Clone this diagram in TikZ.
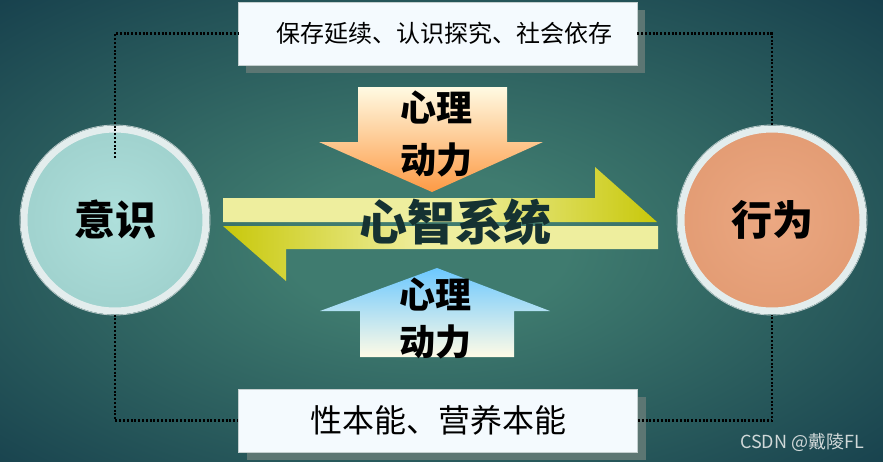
\documentclass[tikz,border=0pt]{standalone}
\usepackage{fontspec}
\newfontfamily\cjk{Noto Sans CJK SC}
\usetikzlibrary{shadows}
\definecolor{bgin}{HTML}{3F7B6F}
\definecolor{bgout}{HTML}{163F4C}
\definecolor{boxfill}{HTML}{F4FAFE}
\definecolor{boxline}{HTML}{C4CFCF}
\definecolor{shadowc}{HTML}{5C7673}
\definecolor{ringc}{HTML}{E3EDED}
\definecolor{ringedge}{HTML}{B8C8C8}
\definecolor{lin}{HTML}{AEDFDB}
\definecolor{lout}{HTML}{A0D2CE}
\definecolor{rin}{HTML}{EBA882}
\definecolor{rout}{HTML}{E39C74}
\definecolor{bandpale}{HTML}{EEEE9E}
\definecolor{bandgreen}{HTML}{C8C80A}
\definecolor{downtop}{HTML}{FFFAE2}
\definecolor{downbot}{HTML}{FD9A45}
\definecolor{uptop}{HTML}{6CC8FF}
\definecolor{upbot}{HTML}{FFFBE6}
\definecolor{titlec}{HTML}{153232}
\definecolor{wmc}{HTML}{D0D8D8}
\pgfdeclareradialshading{bgshade}{\pgfpoint{-1bp}{-2bp}}{color(0bp)=(bgin); color(8bp)=(bgin); color(37bp)=(bgout); color(60bp)=(bgout)}
\pgfdeclarehorizontalshading{upband}{100bp}{color(0bp)=(bandpale); color(25bp)=(bandpale); color(52bp)=(bandpale); color(75bp)=(bandgreen); color(100bp)=(bandgreen)}
\pgfdeclarehorizontalshading{lowband}{100bp}{color(0bp)=(bandgreen); color(25bp)=(bandgreen); color(48bp)=(bandpale); color(75bp)=(bandpale); color(100bp)=(bandpale)}
\tikzset{
  infobox/.style={draw=boxline, line width=0.8pt, fill=boxfill, minimum width=399pt, minimum height=63pt, inner sep=0pt,
    drop shadow={shadow xshift=8pt, shadow yshift=-8pt, opacity=1, fill=shadowc}},
  ball/.style={circle, minimum size=182pt, inner sep=0pt, draw=ringc, line width=7pt,
    font=\cjk\bfseries\fontsize{41}{41}\selectfont},
  dots/.style={line width=2.6pt, dash pattern=on 2pt off 1.8pt, black},
  dyn/.style={font=\cjk\bfseries\fontsize{36}{52}\selectfont, align=center, inner sep=0pt}
}
\begin{document}
\begin{tikzpicture}[x=1pt,y=-1pt]
\useasboundingbox (0,0) rectangle (883,461);
\shade[shading=bgshade] (0,0) rectangle (883,461);

% circles
\node[ball, inner color=lin, outer color=lout] (yishi) at (115,220) {意识};
\node[ball, inner color=rin, outer color=rout] (xingwei) at (772,220) {行为};
\draw[ringedge, line width=0.8pt] (yishi) circle (95);
\draw[ringedge, line width=0.8pt] (xingwei) circle (95);

% boxes
\node[infobox, font=\cjk\fontsize{24}{28}\selectfont] (topbox) at (437.5,33.5) {\hspace*{14pt}保存延续、认识探究、社会依存};
\node[infobox, font=\cjk\fontsize{32}{36}\selectfont] (botbox) at (438,420.5) {性本能、营养本能};

% dotted connectors
\coordinate (lstart) at (115,158);
\draw[dots] (lstart) |- (topbox.west);
\draw[dots] (topbox.east) -| (xingwei.north);
\draw[dots] (yishi.south) |- (botbox.west);
\draw[dots] (botbox.east) -| (xingwei.south);

% double band arrows
\shade[shading=upband] (223,198) -- (595,198) -- (595,167) -- (657,222) -- (223,222) -- cycle;
\shade[shading=lowband] (658,226) -- (223,226) -- (286,281) -- (286,249) -- (658,249) -- cycle;

% vertical arrows
\shade[top color=downtop, bottom color=downbot] (358,87) -- (507,87) -- (507,142) -- (543,142) -- (432,192) -- (319,142) -- (358,142) -- cycle;
\shade[top color=uptop, bottom color=upbot] (437,268) -- (550,311) -- (514,311) -- (514,357) -- (360,357) -- (360,311) -- (320,311) -- cycle;

% texts
\node[dyn] (dtext) at (436,134) {心理\\动力};
\node[dyn, font=\cjk\bfseries\fontsize{36}{47}\selectfont] (utext) at (435,318.5) {心理\\动力};
\node[font=\cjk\bfseries\fontsize{48}{48}\selectfont, text=titlec, inner sep=0pt] (title) at (455,222) {心智系统};
\node[font=\cjk\fontsize{18}{18}\selectfont, text=wmc, inner sep=0pt] (wm) at (802,442) {CSDN @戴陵FL};
\end{tikzpicture}
\end{document}
